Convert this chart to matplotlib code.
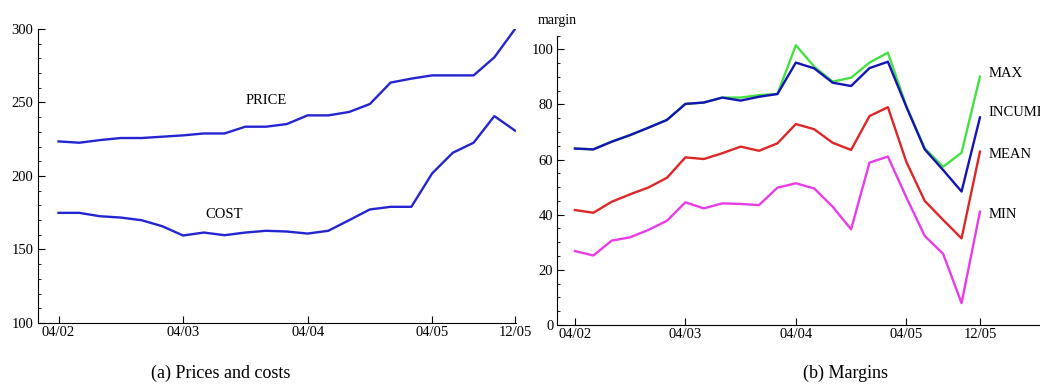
import matplotlib
matplotlib.use("Agg")
from matplotlib import pyplot
from matplotlib.ticker import MultipleLocator

pyplot.rcParams['font.family'] = ['Liberation Serif', 'DejaVu Serif']

# bimonthly observations, 04/02 .. 12/05
tick_pos = [0, 6, 12, 18, 22]
tick_labels = ['04/02', '04/03', '04/04', '04/05', '12/05']

price = [223.5, 222.6, 224.4, 225.8, 225.8, 226.7, 227.6, 228.9, 228.9, 233.5, 233.5, 235.3,
         241.2, 241.2, 243.5, 248.9, 263.5, 266.2, 268.4, 268.4, 268.4, 280.7, 300.0]
cost = [174.9, 174.9, 172.6, 171.7, 169.9, 165.8, 159.5, 161.5, 159.7, 161.5, 162.7, 162.2,
        160.8, 162.7, 169.9, 177.2, 179.0, 179.0, 201.7, 215.8, 222.6, 240.7, 230.8]

m_max = [64.0, 63.7, 66.5, 68.9, 71.6, 74.4, 80.2, 80.7, 82.5, 82.5, 83.4, 83.8,
         101.5, 93.7, 88.3, 89.7, 95.2, 98.8, 79.4, 64.1, 57.4, 62.5, 90.1]
m_inc = [64.0, 63.7, 66.5, 68.9, 71.6, 74.4, 80.2, 80.7, 82.5, 81.4, 82.8, 83.8,
         95.2, 93.1, 87.9, 86.7, 93.2, 95.5, 79.2, 63.7, 56.2, 48.4, 75.3]
m_mean = [41.7, 40.7, 44.7, 47.4, 49.9, 53.4, 60.8, 60.2, 62.3, 64.7, 63.2, 65.9,
          72.9, 71.0, 66.1, 63.5, 75.8, 79.0, 59.2, 45.0, 38.1, 31.4, 62.9]
m_min = [26.8, 25.2, 30.6, 31.8, 34.5, 37.8, 44.5, 42.3, 44.1, 43.9, 43.5, 49.8,
         51.4, 49.5, 42.9, 34.7, 58.9, 61.1, 46.3, 32.3, 25.8, 7.9, 41.1]

x = list(range(len(price)))

fig = pyplot.figure(figsize=(10.4, 3.91), dpi=100)
ax1 = fig.add_axes([0.0363, 0.174, 0.460, 0.752])
ax2 = fig.add_axes([0.536, 0.169, 0.470, 0.740])

# (a) prices and costs
blue = '#2424d0'
ax1.plot(x, price, color=blue, lw=1.7)
ax1.plot(x, cost, color=blue, lw=1.7)
ax1.text(10, 251, 'PRICE', fontsize=10.5, ha='center', va='center')
ax1.text(8, 173.5, 'COST', fontsize=10.5, ha='center', va='center')
ax1.set_xlim(-1, 22.05)
ax1.set_ylim(100, 300)
ax1.yaxis.set_major_locator(MultipleLocator(50))
ax1.yaxis.set_minor_locator(MultipleLocator(10))

# (b) margins
ax2.plot(x, m_max, color='#44e044', lw=1.7)
ax2.plot(x, m_inc, color='#1414b4', lw=1.7)
ax2.plot(x, m_mean, color='#dd2626', lw=1.7)
ax2.plot(x, m_min, color='#e83ce8', lw=1.7)
for lab, yv in [('MAX', 91.3), ('INCUMBENT', 77), ('MEAN', 62), ('MIN', 40)]:
    ax2.text(22.45, yv, lab, fontsize=10.5, ha='left', va='center', clip_on=False)
ax2.set_xlim(-0.95, 25.6)
ax2.set_ylim(0, 105)
ax2.yaxis.set_major_locator(MultipleLocator(20))
ax2.yaxis.set_minor_locator(MultipleLocator(5))
ax2.text(0.0, 1.03, 'margin', transform=ax2.transAxes, fontsize=10, ha='center', va='bottom')

for ax in (ax1, ax2):
    ax.spines['top'].set_visible(False)
    ax.spines['right'].set_visible(False)
    ax.set_xticks(tick_pos)
    ax.set_xticklabels(tick_labels)
    ax.tick_params(direction='in', length=5, width=0.8, labelsize=10.5, pad=2)
    ax.tick_params(which='minor', direction='in', length=2.5, width=0.6)
    ax.tick_params(axis='y', pad=3)

fig.text(0.212, 0.045, '(a) Prices and costs', fontsize=13, ha='center', va='center')
fig.text(0.813, 0.045, '(b) Margins', fontsize=13, ha='center', va='center')

fig.savefig('out.png', dpi=100)
